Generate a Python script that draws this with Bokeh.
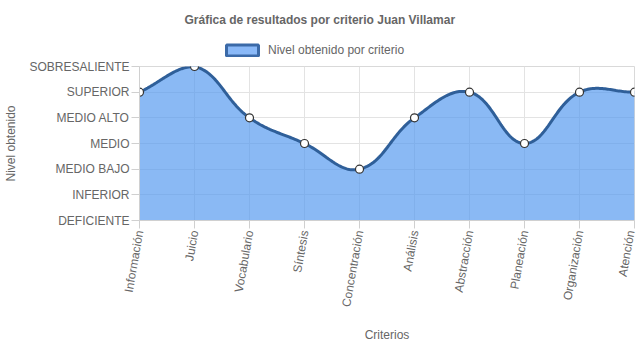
import numpy as np
from bokeh.plotting import figure
from bokeh.layouts import column
from bokeh.models import (FixedTicker, Legend, LegendItem, ColumnDataSource)
from bokeh.embed import file_html
from bokeh.resources import INLINE

categories = ["Información", "Juicio", "Vocabulario", "Síntesis", "Concentración",
              "Análisis", "Abstracción", "Planeación", "Organización", "Atención"]
levels = ["DEFICIENTE", "INFERIOR", "MEDIO BAJO", "MEDIO", "MEDIO ALTO",
          "SUPERIOR", "SOBRESALIENTE"]
values = [5, 6, 4, 3, 2, 4, 5, 3, 5, 5]

FONT = "Liberation Sans"
GRAY = "#666666"
W, H = 637, 348
TOPH = 58
LEFT, RIGHT, TOP, BOTTOM = 139, 3, 8, 128
MH = H - TOPH
fw = W - LEFT - RIGHT
fh = MH - TOP - BOTTOM
n = len(categories)
sx = fw / (n - 1)
sy = fh / (len(levels) - 1)

# Chart.js style spline (tension 0.4) computed in pixel space
pts = [(i * sx, v * sy) for i, v in enumerate(values)]
t = 0.4
ctrl = []
for i, cur in enumerate(pts):
    prev = pts[i - 1] if i > 0 else cur
    nxt = pts[i + 1] if i < n - 1 else cur
    d01 = np.hypot(cur[0] - prev[0], cur[1] - prev[1])
    d12 = np.hypot(nxt[0] - cur[0], nxt[1] - cur[1])
    s01 = d01 / (d01 + d12) if d01 + d12 > 0 else 0
    s12 = d12 / (d01 + d12) if d01 + d12 > 0 else 0
    fa, fb = t * s01, t * s12
    cp = (cur[0] - fa * (nxt[0] - prev[0]), cur[1] - fa * (nxt[1] - prev[1]))
    cn = (cur[0] + fb * (nxt[0] - prev[0]), cur[1] + fb * (nxt[1] - prev[1]))
    clamp = lambda q: (min(max(q[0], 0), fw), min(max(q[1], 0), fh))
    ctrl.append((clamp(cp), clamp(cn)))

cx, cy = [], []
for i in range(n - 1):
    p0 = np.array(pts[i]); p3 = np.array(pts[i + 1])
    p1 = np.array(ctrl[i][1]); p2 = np.array(ctrl[i + 1][0])
    ts = np.linspace(0, 1, 40)[:-1] if i < n - 2 else np.linspace(0, 1, 40)
    for s in ts:
        b = ((1 - s) ** 3) * p0 + 3 * ((1 - s) ** 2) * s * p1 + 3 * (1 - s) * s * s * p2 + s ** 3 * p3
        cx.append(float(b[0] / sx))
        cy.append(float(b[1] / sy))

# ---- header figure: title + legend ----
top = figure(width=W, height=TOPH, output_backend="svg", toolbar_location=None,
             x_range=(0, W), y_range=(0, TOPH), x_axis_type=None, y_axis_type=None,
             min_border_left=0, min_border_right=0, min_border_top=26,
             min_border_bottom=0)
top.outline_line_color = None
top.grid.visible = False
top.title.text = "Gráfica de resultados por criterio Juan Villamar"
top.title.align = "left"
top.title.text_font = FONT
top.title.text_font_size = "12px"
top.title.text_color = GRAY
top.title.text_font_style = "bold"
top.title.standoff = 0
top.title.offset = 45

dummy = top.quad(left=[0], right=[0], top=[0], bottom=[0], fill_color="#8ab9f8",
                 line_color="#3b6aa8", line_width=3)
legend = Legend(items=[LegendItem(label="Nivel obtenido por criterio", renderers=[dummy])],
                orientation="horizontal", location=(83, 1),
                glyph_width=40, glyph_height=14, label_text_font=FONT,
                label_text_font_size="12px", label_text_color=GRAY,
                border_line_color=None, background_fill_alpha=0,
                padding=0, margin=0, spacing=0, label_standoff=6,
                label_height=14)
top.add_layout(legend, "center")

# ---- main chart ----
p = figure(width=W, height=MH, output_backend="svg", toolbar_location=None,
           x_range=(0, n - 1), y_range=(0, len(levels) - 1),
           min_border_left=LEFT, min_border_right=RIGHT, min_border_top=TOP,
           min_border_bottom=BOTTOM)
p.outline_line_color = "#d9d9d9"

curve = ColumnDataSource(dict(x=cx, y=cy, y0=[0] * len(cx)))
p.varea(x="x", y1="y0", y2="y", source=curve, fill_color="#4d94ee", fill_alpha=0.66)
p.line(x="x", y="y", source=curve, line_color="#2f5f99", line_width=3)
p.scatter(x=list(range(n)), y=values, size=8, fill_color="white",
          line_color="#333333", line_width=1.2)

p.xaxis.ticker = FixedTicker(ticks=list(range(n)))
p.xaxis.major_label_overrides = {i: c for i, c in enumerate(categories)}
p.xaxis.major_label_orientation = float(np.deg2rad(80))
p.yaxis.ticker = FixedTicker(ticks=list(range(len(levels))))
p.yaxis.major_label_overrides = {i: c for i, c in enumerate(levels)}

for ax in (p.xaxis[0], p.yaxis[0]):
    ax.axis_line_color = "#d0d0d0"
    ax.major_tick_line_color = "#d0d0d0"
    ax.major_tick_out = 8
    ax.major_tick_in = 0
    ax.minor_tick_line_color = None
    ax.major_label_text_font = FONT
    ax.major_label_text_font_size = "12px"
    ax.major_label_text_color = GRAY
    ax.axis_label_text_font = FONT
    ax.axis_label_text_font_size = "12px"
    ax.axis_label_text_color = GRAY
    ax.axis_label_text_font_style = "normal"
p.xaxis.axis_label = "Criterios"
p.yaxis.axis_label = "Nivel obtenido"
p.xaxis.major_label_standoff = 2
p.yaxis.major_label_standoff = 2
p.xaxis.axis_label_standoff = 16
p.yaxis.axis_label_standoff = 8

p.grid.grid_line_color = "#e3e3e3"
p.grid.grid_line_width = 1

layout = column(top, p, spacing=0)
open("out.html", "w").write(file_html(layout, INLINE))
